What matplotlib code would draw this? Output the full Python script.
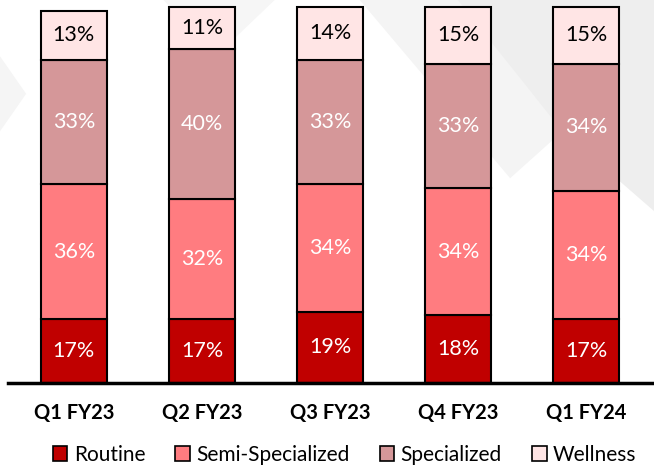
import matplotlib.pyplot as plt
from matplotlib.patches import Polygon, Patch

quarters = ['Q1 FY23', 'Q2 FY23', 'Q3 FY23', 'Q4 FY23', 'Q1 FY24']
routine = [17, 17, 19, 18, 17]
semi_specialized = [36, 32, 34, 34, 34]
specialized = [33, 40, 33, 33, 34]
wellness = [13, 11, 14, 15, 15]

segments = [
    ('Routine', routine, '#C00000', 'white'),
    ('Semi-Specialized', semi_specialized, '#FF7C80', 'white'),
    ('Specialized', specialized, '#D59799', 'white'),
    ('Wellness', wellness, '#FFE5E5', 'black'),
]

plt.rcParams['font.family'] = ['Lato', 'DejaVu Sans']

fig = plt.figure(figsize=(6.54, 4.69), dpi=100)
fig.patch.set_facecolor('white')

# faint diagonal shapes in the slide background
for pts, col in [
    ([(0.62, 1.0), (1.0, 1.0), (1.0, 0.55), (0.86, 0.72)], '#EEEEEE'),
    ([(0.55, 1.0), (0.70, 1.0), (0.86, 0.72), (0.78, 0.62)], '#F4F4F4'),
    ([(0.0, 0.88), (0.04, 0.80), (0.0, 0.72)], '#F5F5F5'),
    ([(0.25, 1.0), (0.42, 1.0), (0.33, 0.88)], '#F6F6F6'),
]:
    fig.add_artist(Polygon(pts, closed=True, transform=fig.transFigure,
                           facecolor=col, edgecolor='none', zorder=0))

ax = fig.add_axes([0.012, 0.183, 0.988, 0.817])
ax.set_facecolor('none')

x = list(range(len(quarters)))
bottom = [0] * len(quarters)
for name, vals, color, txt in segments:
    ax.bar(x, vals, width=0.52, bottom=bottom, color=color,
           edgecolor='black', linewidth=1.5, label=name, zorder=2)
    for i, v in enumerate(vals):
        ax.text(x[i], bottom[i] + v / 2, f'{v}%', ha='center', va='center',
                color=txt, fontsize=15.5, zorder=3)
    bottom = [b + v for b, v in zip(bottom, vals)]

ax.set_xlim(-0.516, 4.531)
ax.set_ylim(0, 101.9)
ax.set_yticks([])
ax.set_xticks(x)
ax.set_xticklabels(quarters, fontsize=14.5, fontweight='bold')
ax.tick_params(axis='x', length=0, pad=14)
for s in ['top', 'right', 'left']:
    ax.spines[s].set_visible(False)
ax.spines['bottom'].set_linewidth(2.5)
ax.spines['bottom'].set_zorder(4)

handles = [Patch(facecolor=c, edgecolor='black', linewidth=1.2, label=n)
           for n, _, c, _ in segments]
fig.legend(handles=handles, loc='center', bbox_to_anchor=(0.527, 0.03),
           ncol=4, frameon=False, fontsize=15, handlelength=0.7,
           handleheight=0.7, handletextpad=0.3, columnspacing=1.45)

fig.savefig('out.png', dpi=100, facecolor=fig.get_facecolor())
